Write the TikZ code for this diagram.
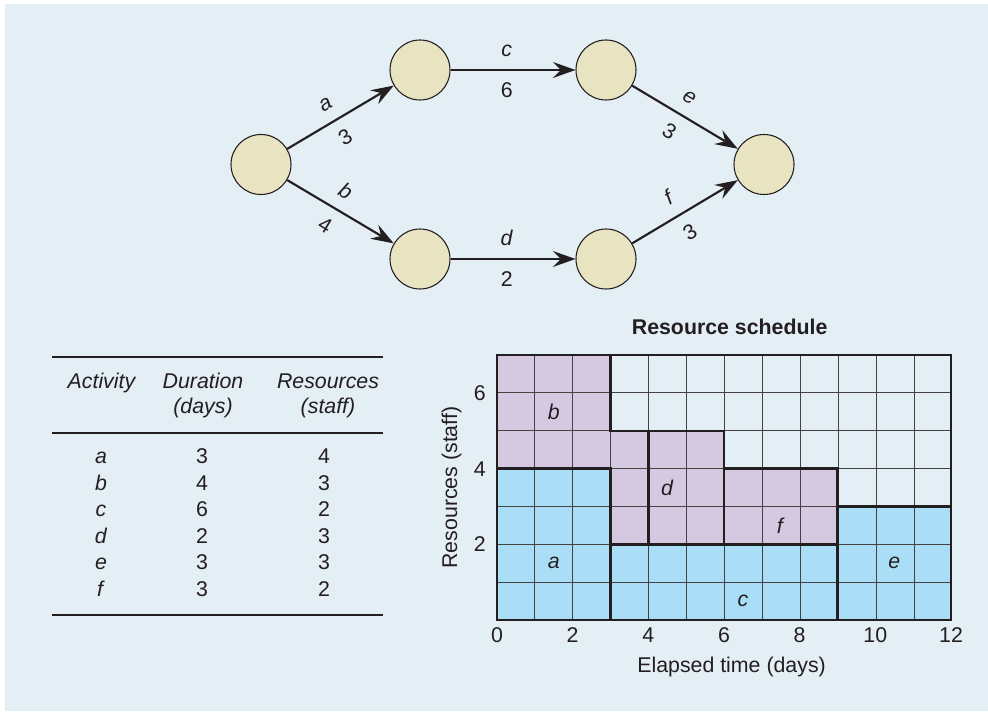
\documentclass[tikz,border=0pt]{standalone}
\usepackage{fontspec}
\setmainfont{Liberation Sans}
\usepackage{xcolor}
\usetikzlibrary{arrows.meta,positioning}
\definecolor{panelblue}{RGB}{228,238,245}
\definecolor{eventbeige}{RGB}{232,227,193}
\definecolor{staffblue}{RGB}{170,222,247}
\definecolor{staffpurple}{RGB}{213,201,226}
\definecolor{inkdark}{RGB}{35,31,32}

\tikzset{
  event/.style={circle,draw=inkdark,line width=0.8pt,fill=eventbeige,minimum size=45pt,inner sep=0pt},
  activity/.style={draw=inkdark,line width=1.6pt,-{Stealth[length=17pt,width=12pt,inset=6pt]}},
  actname/.style={sloped,pos=0.45,above=9pt,inner sep=0pt,text height=11.5pt,text depth=0pt},
  actdur/.style={sloped,pos=0.45,below=8pt,inner sep=0pt,text height=11.5pt,text depth=0pt},
  tablerule/.style={draw=inkdark,line width=0.9pt},
  tabletext/.style={anchor=base,inner sep=0pt},
  gridline/.style={draw=inkdark!85,line width=0.7pt},
  gridframe/.style={draw=inkdark,line width=1.3pt},
  blockline/.style={draw=inkdark,line width=2pt}
}

\begin{document}
\begin{tikzpicture}[x=0.75pt,y=0.75pt,font=\fontsize{16}{19}\selectfont,text=inkdark]
    \useasboundingbox (0,0) rectangle (988,711);
    \fill[panelblue] (5,0) rectangle (988,707);
    % Activity network
    \node[event] (ev1) at (261,546.5) {};
    \node[event] (ev2) at (420,641) {};
    \node[event] (ev3) at (606,641) {};
    \node[event] (ev4) at (764,546.5) {};
    \node[event] (ev5) at (420,452) {};
    \node[event] (ev6) at (606,452) {};
    \draw[activity] (ev1) -- node[actname] {\textit{a}} node[actdur] {3} (ev2);
    \draw[activity] (ev1) -- node[actname] {\textit{b}} node[actdur] {4} (ev5);
    \draw[activity] (ev2) -- node[actname] {\textit{c}} node[actdur] {6} (ev3);
    \draw[activity] (ev5) -- node[actname] {\textit{d}} node[actdur] {2} (ev6);
    \draw[activity] (ev3) -- node[actname] {\textit{e}} node[actdur] {3} (ev4);
    \draw[activity] (ev6) -- node[actname] {\textit{f}} node[actdur] {3} (ev4);
    % Activity table
    \draw[tablerule] (52,354) -- (383,354);
    \draw[tablerule] (52,278) -- (383,278);
    \draw[tablerule] (52,96) -- (383,96);
    \node[tabletext] (hact) at (102,322) {\textit{Activity}};
    \node[tabletext] (hdur) at (203,322) {\textit{Duration}};
    \node[tabletext] (hdurunit) at (203,297) {\textit{(days)}};
    \node[tabletext] (hres) at (328,322) {\textit{Resources}};
    \node[tabletext] (hresunit) at (328,297) {\textit{(staff)}};
    \foreach \act/\dur/\res [count=\i] in {a/3/4,b/4/3,c/6/2,d/2/3,e/3/3,f/3/2} {
        \node[tabletext] (act\i) at (101,{247.5-26.6*(\i-1)}) {\textit{\act}};
        \node[tabletext] (dur\i) at (202,{247.5-26.6*(\i-1)}) {\dur};
        \node[tabletext] (res\i) at (324,{247.5-26.6*(\i-1)}) {\res};
    }
    % Resource schedule
    \begin{scope}[shift={(372.75pt,68.25pt)},x=28.375pt,y=28.375pt]
        \fill[staffblue] (0,0) rectangle (3,4) (3,0) rectangle (9,2) (9,0) rectangle (12,3);
        \fill[staffpurple] (0,4) -- (0,7) -- (3,7) -- (3,5) -- (4,5) -- (4,2) -- (3,2) -- (3,4) -- cycle;
        \fill[staffpurple] (4,2) rectangle (6,5) (6,2) rectangle (9,4);
        \draw[gridline] (0,0) grid (12,7);
        \draw[gridframe] (0,0) rectangle (12,7);
        \draw[blockline] (0,0) rectangle (3,4) (3,0) rectangle (9,2) (9,0) rectangle (12,3)
            (4,2) rectangle (6,5) (6,2) rectangle (9,4);
        \draw[blockline] (0,4) -- (0,7) -- (3,7) -- (3,5) -- (4,5) -- (4,2) -- (3,2) -- (3,4) -- cycle;
        \foreach \lbl/\px/\py in {a/1.5/1.5,b/1.5/5.5,c/6.5/0.5,d/4.5/3.5,e/10.5/1.5,f/7.5/2.5} {
            \node (blk\lbl) at (\px,\py) {\textit{\lbl}};
        }
        \foreach \t in {0,2,...,12} {
            \node[below=2.5pt] (xt\t) at (\t,0) {\t};
        }
        \foreach \s in {2,4,6} {
            \node[left=5pt] (yt\s) at (0,\s) {\s};
        }
        \node (xtitle) at (6.2,-1.25) {Elapsed time (days)};
        \node[rotate=90] (ytitle) at (-1.2,3.5) {Resources (staff)};
        \node[font=\fontsize{16}{19}\selectfont\bfseries] (ctitle) at (6.15,7.75) {Resource schedule};
    \end{scope}
\end{tikzpicture}
\end{document}
